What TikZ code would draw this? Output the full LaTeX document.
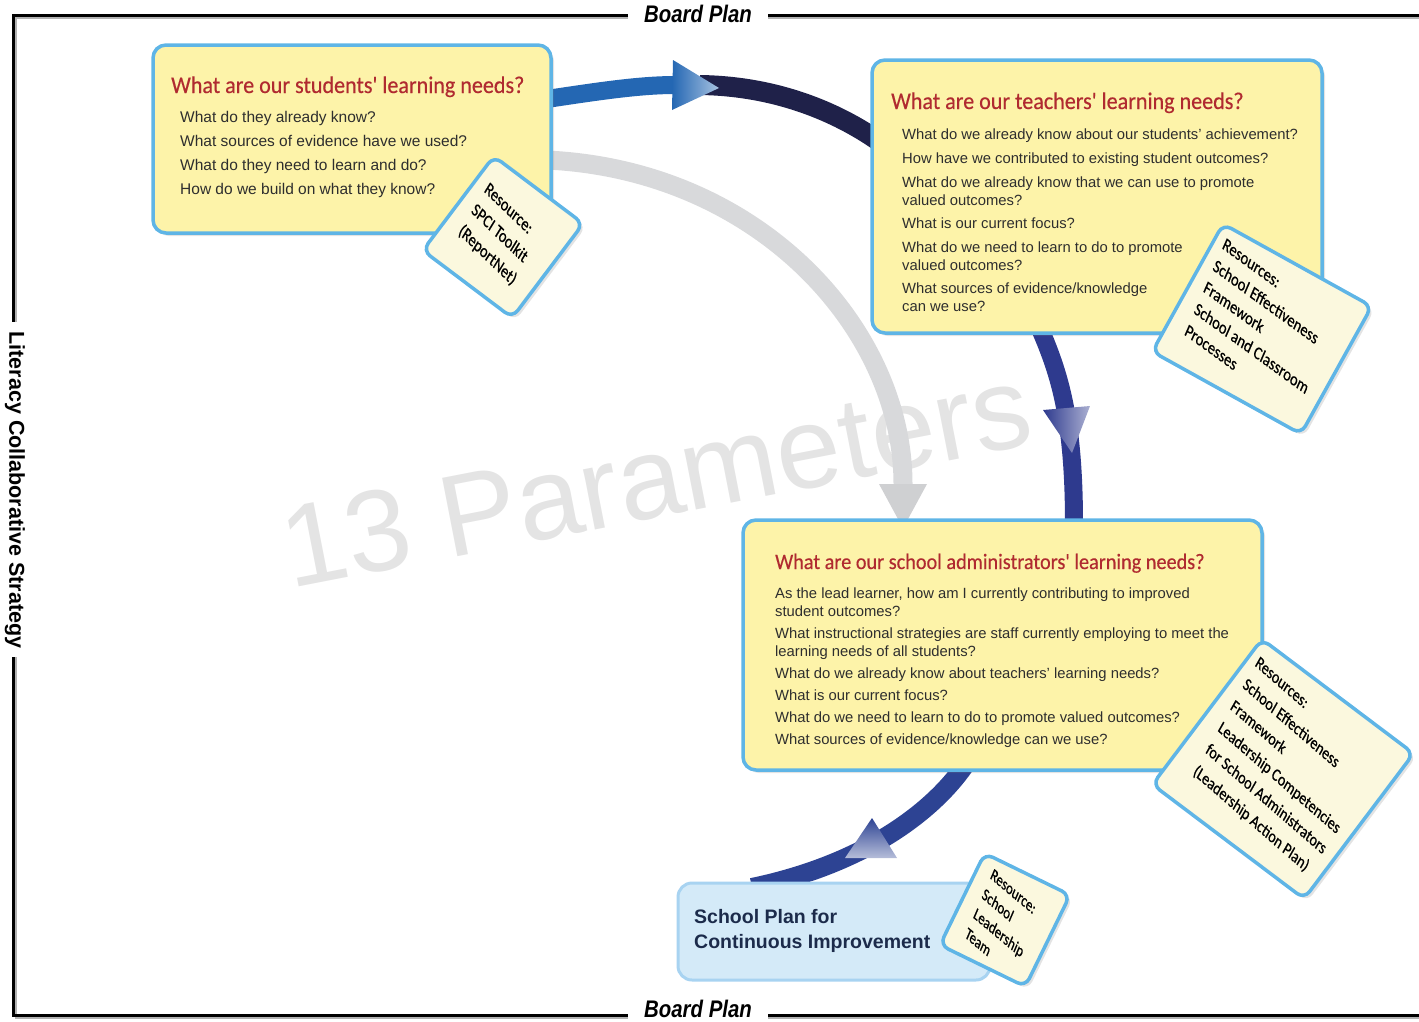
\documentclass[tikz,border=0pt]{standalone}
\usepackage{fontspec}
\setmainfont{Liberation Sans}
\newfontfamily\titlefont[FakeStretch=0.92,FakeBold=0.4]{Carlito}
\newfontfamily\cardfont[FakeStretch=0.92,FakeBold=0.6]{Carlito}
\newfontfamily\condfont[FakeStretch=0.85]{Liberation Sans}
\usetikzlibrary{calc,shadows}
\definecolor{boxyellow}{HTML}{FDF3A9}
\definecolor{boxblue}{HTML}{5FB5E6}
\definecolor{cardfill}{HTML}{FBF8DE}
\definecolor{titlered}{HTML}{B02A30}
\definecolor{bodygray}{HTML}{2E2E2E}
\definecolor{planfill}{HTML}{D4EAF8}
\definecolor{planborder}{HTML}{A8D3F1}
\definecolor{plantext}{HTML}{1C2B4B}
\definecolor{ablue}{HTML}{2467B3}
\definecolor{navyA}{HTML}{1F2149}
\definecolor{navyB}{HTML}{2E3A8E}
\definecolor{navyC}{HTML}{2D4393}
\definecolor{arrgray}{HTML}{D8D9DB}
\definecolor{wmgray}{HTML}{E4E4E4}
\pgfdeclarelayer{bg}
\pgfsetlayers{bg,main}
\begin{document}
\begin{tikzpicture}[x=1pt,y=-1pt,
  qbox/.style={draw=boxblue, line width=3.5pt, fill=boxyellow, rounded corners=13pt, inner sep=0pt,
    drop shadow={opacity=0.22, shadow xshift=3pt, shadow yshift=-3pt}},
  planbox/.style={draw=planborder, line width=3pt, fill=planfill, rounded corners=14pt, inner sep=0pt},
  card/.style={draw=boxblue, line width=3.5pt, fill=cardfill, rounded corners=9pt, inner sep=0pt,
    drop shadow={opacity=0.22, shadow xshift=3pt, shadow yshift=-3pt}},
  qtitle/.style={anchor=base west, inner sep=0pt, text=titlered},
  qbody/.style={anchor=north west, inner sep=0pt, align=left, text=bodygray},
  cardtext/.style={inner sep=0pt, align=left, text=black},
  frameline/.style={line width=3pt, black},
  frameshadow/.style={line width=2pt, black!30},
  frametext/.style={font=\condfont\bfseries\itshape\fontsize{24}{27}\selectfont, inner sep=0pt}
]
\useasboundingbox (0,0) rectangle (1419,1021);

% frame
\draw[frameshadow] (628,18) -- (16,18) -- (16,322) (16,657) -- (16,1018) -- (628,1018)
  (768,18) -- (1419,18) (768,1018) -- (1419,1018);
\draw[frameline] (628,15) -- (13,15) -- (13,322) (13,657) -- (13,1015) -- (628,1015)
  (768,15) -- (1419,15) (768,1015) -- (1419,1015);
\node[frametext] (bpt) at (698,14) {Board Plan};
\node[frametext] (bpb) at (698,1009) {Board Plan};
\node[inner sep=0pt, rotate=-90, font=\bfseries\fontsize{21.5}{24}\selectfont] (lcs) at (15,490) {Literacy Collaborative Strategy};

% boxes
\node[qbox, minimum width=398pt, minimum height=188pt] (b1) at (352,139) {};
\node[qbox, minimum width=450pt, minimum height=273pt] (b2) at (1097,196.5) {};
\node[qbox, minimum width=519pt, minimum height=250pt] (b3) at (1002.5,645) {};
\node[planbox, minimum width=312pt, minimum height=97pt] (b4) at (834,931.5) {};

% arrow end points
\coordinate (aS) at ([xshift=-6pt,yshift=40pt]b1.east);
\coordinate (aH) at (675,85);
\coordinate (aT) at (719,88);
\coordinate (nS) at (700,85);
\coordinate (nE) at ([xshift=6pt,yshift=57pt]b2.west);
\coordinate (bS) at ([xshift=-57pt,yshift=6pt]b2.south);
\coordinate (bE) at ([xshift=71.5pt,yshift=-6pt]b3.north);
\coordinate (cS) at ([xshift=-38pt,yshift=6pt]b3.south);
\coordinate (cE) at ([xshift=-82pt,yshift=-6pt]b4.north);
\coordinate (dS) at ([xshift=-6pt,yshift=-21pt]b1.east);
\coordinate (dH) at (903,484);
\coordinate (dT) at ([xshift=-99.5pt,yshift=-10pt]b3.north);

\begin{pgfonlayer}{bg}
\node[rotate=11, anchor=base west, inner sep=0pt, text=wmgray, font=\fontsize{116}{120}\selectfont] (wm) at (290,589) {13 Parameters};
% gray arrow
\draw[line width=19pt, arrgray] (dS) .. controls (760,170) and (903,330) .. (dH);
\fill[arrgray!96!black] ($(dH)+(-24,0)$) -- ($(dH)+(24,0)$) -- (dT) -- cycle;
% top arc
\draw[line width=20pt, navyA] (nS) .. controls (770,86) and (830,108) .. (nE);
\draw[line width=18pt, ablue] (aS) .. controls (600,91) and (640,85) .. (aH);
\shade[left color=ablue, right color=ablue!40!white] (673,60) -- (672,110) -- (aT) -- cycle;
% right arrow
\draw[line width=18pt, navyB] (bS) .. controls (1060,375) and (1074,420) .. (bE);
\shade[left color=navyB, right color=navyB!40!white] (1043,410) -- (1090,406) -- (1072,453) -- cycle;
% lower arrow
\draw[line width=19pt, navyC] (cS) .. controls (930,815) and (860,865) .. (cE);
\shade[top color=navyC, bottom color=navyC!35!white] (872,818) -- (897,858) -- (845,858) -- cycle;
\end{pgfonlayer}

% titles and questions
\node[qtitle, font=\titlefont\fontsize{24}{28}\selectfont] (t1) at (171,93) {What are our students' learning needs?};
\node[qbody, font=\fontsize{15.5}{23.7}\selectfont] (q1) at (180,111.5) {What do they already know?\\What sources of evidence have we used?\\What do they need to learn and do?\\How do we build on what they know?};

\node[qtitle, font=\titlefont\fontsize{24}{28}\selectfont] (t2) at (891,109) {What are our teachers' learning needs?};
\node[qbody, font=\fontsize{14.8}{18}\selectfont] (q2) at (902,128.6) {What do we already know about our students' achievement?\\[6pt]How have we contributed to existing student outcomes?\\[6pt]What do we already know that we can use to promote\\valued outcomes?\\[5pt]What is our current focus?\\[6pt]What do we need to learn to do to promote\\valued outcomes?\\[5pt]What sources of evidence/knowledge\\can we use?};

\node[qtitle, font=\titlefont\fontsize{22}{26}\selectfont] (t3) at (775,569) {What are our school administrators' learning needs?};
\node[qbody, font=\fontsize{14.8}{18}\selectfont] (q3) at (775,587.6) {As the lead learner, how am I currently contributing to improved\\student outcomes?\\[4pt]What instructional strategies are staff currently employing to meet the\\learning needs of all students?\\[4pt]What do we already know about teachers' learning needs?\\[4pt]What is our current focus?\\[4pt]What do we need to learn to do to promote valued outcomes?\\[4pt]What sources of evidence/knowledge can we use?};

\node[anchor=north west, align=left, inner sep=0pt, text=plantext, font=\bfseries\fontsize{19.5}{25}\selectfont] (b4t) at (694,909) {School Plan for\\Continuous Improvement};

% resource cards
\node[card, rotate=-37, minimum width=112pt, minimum height=118pt] (c1) at (503,237) {};
\node[cardtext, rotate=-44, xslant=-0.22, font=\cardfont\fontsize{17}{24}\selectfont] (c1t) at (500,235) {Resource:\\SPCI Toolkit\\(ReportNet)};

\node[card, rotate=-29, minimum width=170pt, minimum height=146pt] (c2) at (1262,329) {};
\node[cardtext, rotate=-36, xslant=-0.22, font=\cardfont\fontsize{17}{23}\selectfont] (c2t) at (1261,327) {Resources:\\School Effectiveness\\Framework\\School and Classroom\\Processes};

\node[card, rotate=-37, minimum width=190pt, minimum height=182pt] (c3) at (1283,769) {};
\node[cardtext, rotate=-41, xslant=-0.2, font=\cardfont\fontsize{16.5}{24.5}\selectfont] (c3t) at (1285,768) {Resources:\\School Effectiveness\\Framework\\Leadership Competencies\\for School Administrators\\(Leadership Action Plan)};

\node[card, rotate=-26, minimum width=95pt, minimum height=102pt] (c4) at (1005,920) {};
\node[cardtext, rotate=-40, xslant=-0.3, font=\cardfont\fontsize{15.5}{20.5}\selectfont] (c4t) at (1003,923) {Resource:\\School\\Leadership\\Team};
\end{tikzpicture}
\end{document}
